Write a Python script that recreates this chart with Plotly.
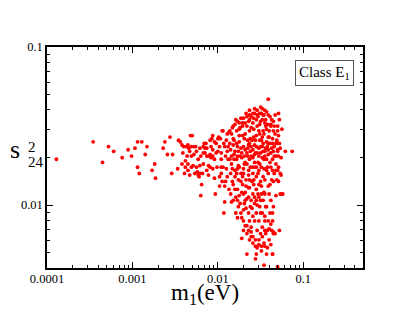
import numpy as np
import plotly.graph_objects as go

# log10 of m1 (eV) and log10 of s24^2
log_m1 = [
 -3.89,-3.46,-3.35,-3.28,-3.22,-3.12,-3.05,-3.01,-2.97,-2.94,-2.94,-2.92,-2.89,-2.85,-2.83,-2.77,-2.74,-2.73,-2.64,-2.62,-2.59,-2.56,-2.53,-2.54,-2.47,-2.46,
 -2.44,-2.42,-2.40,-2.38,-2.37,-2.35,-2.34,-2.32,-2.30,-2.31,-2.38,-2.35,-2.33,-2.31,-2.29,-2.28,-2.26,-2.24,-2.23,-2.22,-2.21,-2.20,-2.19,-2.17,-2.16,-2.15,-2.14,-2.13,-2.11,-2.11,-2.09,-2.08,-2.07,-2.06,-2.06,-2.04,-2.04,-2.03,-2.02,-2.01,
 -2.00,-1.99,-1.98,-1.98,-1.96,-1.96,-1.96,-1.95,-1.94,-1.93,-1.93,-1.92,-1.91,-1.91,-1.90,-1.89,-1.89,-1.88,-1.87,-1.87,-1.86,-1.85,-1.84,-1.84,-1.83,-1.83,-1.82,-1.82,-1.81,-1.80,-1.80,-1.79,-1.79,-1.78,-1.77,-1.77,-1.77,-1.76,-1.76,-1.75,-1.74,-1.74,-1.73,-1.73,-1.72,-1.72,-1.71,-1.70,-1.70,-1.70,-1.69,-1.68,-1.68,-1.67,-1.66,-1.66,-1.66,-1.65,-1.64,-1.64,-1.63,-1.63,-1.63,-1.62,-1.61,-1.61,-1.61,-1.60,-1.59,-1.59,-1.59,-1.59,-1.58,-1.57,-1.57,-1.57,-1.56,-1.55,-1.55,-1.55,-1.54,-1.54,-1.53,-1.53,-1.52,-1.52,-1.51,-1.51,-1.50,-1.50,-1.50,-1.49,-1.49,-1.48,-1.48,-1.47,-1.47,-1.47,-1.46,-1.46,-1.45,-1.45,-1.44,-1.44,-1.43,-1.42,-1.42,-1.41,-1.41,-1.40,-1.39,-1.39,-1.38,-1.38,-1.37,-1.36,-1.36,-1.35,-1.35,-1.34,-1.34,-1.33,-1.32,-1.31,-1.30,-1.30,-1.29,-1.28,-1.27,-1.27,-1.26,-1.25,-1.25,-1.21,-1.13,-1.26,-1.24,-1.36,-1.30,-1.41,-1.56,-1.46,
 -1.84,-1.82,-1.81,-1.80,-1.78,-1.78,-1.77,-1.75,-1.75,-1.74,-1.73,-1.72,-1.71,-1.71,-1.70,-1.69,-1.68,-1.68,-1.67,-1.66,-1.65,-1.64,-1.64,-1.63,-1.62,-1.62,-1.61,-1.60,-1.59,-1.58,-1.58,-1.57,-1.56,-1.56,-1.55,-1.55,-1.54,-1.53,-1.52,-1.52,-1.51,-1.50,-1.50,-1.49,-1.48,-1.48,-1.47,-1.46,-1.46,-1.45,-1.45,-1.44,-1.43,-1.43,-1.42,-1.41,-1.41,-1.40,-1.39,-1.39,-1.38,-1.38,-1.37,-1.36,-1.36,-1.35,-1.34,-1.33,-1.32,-1.32,-1.31,-1.30,-1.29,-1.29,-1.28,-1.28,
 -1.45,-1.43,-1.48,-1.54,-1.50,-1.57,-1.59,-1.63,-1.67,-1.70,-1.75,-1.79,-1.82,-1.86,-1.90,-1.92,-1.95,-1.97,-2.00,-2.02,-2.04,-2.06,-2.08,-2.09,-2.11,-2.13,-2.15,-2.17,-2.18,-2.20,-2.21,-2.23,-2.25,-2.27,-2.28,-2.31,-2.33,-2.36,-2.39,-2.41,-2.42,
 -1.80,-1.77,-1.75,-1.73,-1.71,-1.69,-1.68,-1.66,-1.64,-1.63,-1.63,-1.61,-1.60,-1.59,-1.57,-1.57,-1.55,-1.55,-1.54,-1.53,-1.52,-1.51,-1.50,-1.49,-1.48,-1.48,-1.47,-1.46,-1.45,-1.45,-1.44,-1.43,-1.42,-1.41,-1.40,-1.39,-1.38,-1.37,-1.36,-1.35,-1.33,-1.38,-1.36,-1.45,-1.49,-1.52,-1.54,-1.56,-1.59,-1.61,-1.63,-1.64,-1.66,-1.68,-1.70,-1.72,-1.66,-1.43,
 -1.29,-1.27,-1.32,-1.30,
 -1.85,-1.84,-1.83,-1.81,-1.80,-1.78,-1.77,-1.76,-1.75,-1.73,-1.72,-1.71,-1.70,-1.69,-1.68,-1.66,-1.65,-1.64,-1.63,-1.62,-1.61,-1.59,-1.58,-1.57,-1.56,-1.55,-1.54,-1.52,-1.51,-1.50,-1.49,-1.48,-1.46,-1.45,-1.44,-1.43,-1.42,-1.41,-1.40,-1.38,-1.37,-1.36,-1.35,-1.34,-1.32,-1.31,-1.30,-1.29,
 -1.77,-1.70,-1.64,-1.58,-1.52,-1.45,-1.40,-1.35,-1.59,-1.52,-1.47,-1.63,-1.55,-1.41,-1.51,-1.61,-1.49,-1.41,-1.35,
 -1.86,-1.88,-1.89,-1.94,-1.96,-1.82,-1.85,-1.76,-1.67,-2.13,-2.17,-2.21,-2.25,-2.35,-2.06,-2.09,-1.98,-1.92,
]
log_s24 = [
 -1.71,-1.60,-1.73,-1.63,-1.66,-1.70,-1.65,-1.69,-1.64,-1.60,-1.76,-1.80,-1.60,-1.68,-1.63,-1.78,-1.74,-1.83,-1.64,-1.60,-1.68,-1.57,-1.68,-1.80,-1.77,-1.59,
 -1.60,-1.62,-1.63,-1.72,-1.63,-1.62,-1.64,-1.56,-1.56,-1.63,-1.76,-1.78,-1.81,-1.69,-1.75,-1.68,-1.63,-1.79,-1.81,-1.82,-1.75,-1.94,-1.87,-1.67,-1.61,-1.64,-1.61,-1.64,-1.75,-1.81,-1.68,-1.70,-1.58,-1.56,-1.65,-1.60,-1.83,-1.93,-1.67,-1.76,
 -1.58,-1.57,-1.63,-1.82,-1.71,-1.76,-1.80,-1.85,-1.53,-2.05,-1.61,-1.98,-1.69,-1.85,-1.77,-1.66,-1.55,-1.63,-1.54,-1.90,-1.71,-1.80,-1.74,-1.98,-1.51,-1.85,-1.87,-1.58,-1.68,-1.78,-1.49,-1.95,-2.05,-1.61,-1.47,-1.77,-2.08,-1.84,-1.66,-1.52,-1.99,-1.69,-1.45,-1.80,-2.21,-1.92,-1.56,-1.63,-2.10,-2.03,-1.74,-1.97,-1.48,-1.84,-1.67,-2.13,-1.44,-1.59,-1.78,-1.89,-1.53,-1.43,-1.71,-2.01,-2.14,-1.63,-2.20,-1.85,-1.48,-2.24,-1.76,-2.07,-1.57,-1.68,-1.42,-1.95,-2.26,-1.82,-2.31,-1.63,-1.50,-2.00,-1.73,-1.44,-1.87,-2.22,-1.59,-1.42,-2.05,-1.97,-1.67,-1.76,-2.26,-1.46,-2.14,-1.53,-1.82,-1.61,-1.92,-1.43,-1.69,-2.10,-2.01,-1.50,-1.78,-1.63,-2.27,-1.88,-1.57,-2.15,-1.44,-1.73,-1.97,-1.50,-1.84,-1.61,-2.05,-1.53,-2.18,-1.69,-1.80,-1.43,-1.94,-1.59,-1.66,-1.50,-1.85,-2.16,-1.64,-1.80,-1.70,-1.52,-1.93,-1.66,-1.66,-1.81,-1.93,-2.31,-2.39,-1.33,-2.34,-2.38,
 -1.55,-1.62,-1.71,-1.66,-1.53,-1.80,-1.69,-1.60,-1.76,-1.51,-1.64,-1.70,-1.82,-1.48,-1.77,-1.58,-1.65,-1.73,-1.88,-1.50,-1.69,-1.62,-1.81,-1.46,-1.66,-1.76,-1.51,-1.59,-1.70,-1.87,-1.45,-1.62,-1.76,-1.67,-1.56,-1.90,-1.43,-1.80,-1.64,-1.53,-1.74,-1.47,-1.85,-1.59,-1.70,-1.63,-1.43,-1.77,-1.55,-1.66,-1.84,-1.46,-1.60,-1.71,-1.49,-1.80,-1.65,-1.53,-1.87,-1.61,-1.76,-1.67,-1.46,-1.71,-1.58,-1.85,-1.63,-1.55,-1.74,-1.69,-1.61,-1.78,-1.56,-1.69,-1.61,-1.46,
 -1.40,-1.41,-1.39,-1.40,-1.38,-1.39,-1.42,-1.40,-1.42,-1.45,-1.48,-1.46,-1.50,-1.53,-1.59,-1.63,-1.53,-1.58,-1.66,-1.61,-1.71,-1.77,-1.63,-1.59,-1.69,-1.78,-1.67,-1.74,-1.80,-1.69,-1.64,-1.71,-1.76,-1.80,-1.63,-1.76,-1.66,-1.69,-1.80,-1.67,-1.74,
 -1.90,-1.97,-1.94,-2.05,-1.87,-1.99,-1.92,-1.96,-2.05,-2.10,-1.89,-1.97,-2.02,-1.93,-1.99,-2.10,-2.05,-1.97,-2.16,-1.93,-2.10,-2.01,-2.18,-1.93,-2.05,-2.20,-1.97,-2.24,-2.07,-2.16,-2.18,-2.01,-2.16,-2.10,-2.22,-2.05,-2.12,-2.16,-2.10,-2.17,-2.18,-2.25,-2.31,-2.26,-2.29,-2.25,-2.27,-2.22,-2.20,-2.17,-2.22,-2.16,-2.18,-2.13,-2.16,-2.08,-2.31,-2.31,
 -1.42,-1.93,-1.78,-1.53,
 -1.65,-1.69,-1.77,-1.59,-1.82,-1.71,-1.63,-1.75,-1.56,-1.85,-1.67,-1.50,-1.80,-1.69,-1.55,-1.74,-1.64,-1.47,-1.84,-1.58,-1.69,-1.80,-1.52,-1.73,-1.59,-1.46,-1.67,-1.78,-1.49,-1.63,-1.88,-1.57,-1.71,-1.48,-1.64,-1.52,-1.76,-1.68,-1.57,-1.49,-1.64,-1.78,-1.66,-1.50,-1.61,-1.84,-1.65,-1.76,
 -1.90,-1.93,-1.95,-1.84,-1.95,-1.93,-1.93,-2.01,-1.65,-1.69,-1.66,-1.61,-1.76,-1.61,-1.55,-1.44,-1.42,-1.43,-1.47,
 -1.61,-1.71,-1.82,-1.76,-1.67,-1.97,-1.93,-2.01,-2.02,-1.69,-1.63,-1.80,-1.66,-1.74,-1.69,-1.76,-1.88,-1.88,
]

x_tickvals = [1e-4, 1e-3, 1e-2, 1e-1]
x_ticktext = ["0.0001", "0.001", "0.01", "0.1"]
y_tickvals = [1e-2, 1e-1]
y_ticktext = ["0.01", "0.1"]

m1 = 10 ** np.array(log_m1)
s24 = 10 ** np.array(log_s24)

x_minor = [m * 10.0 ** e for e in range(-4, 0) for m in range(2, 10)]
x_minor = [v for v in x_minor if v <= 0.5]
y_minor = [m * 10.0 ** e for e in range(-3, -1) for m in range(2, 10)]
y_minor = [v for v in y_minor if v >= 0.004]

serif = "Liberation Serif, Times New Roman, serif"

fig = go.Figure()
fig.add_trace(go.Scatter(x=m1, y=s24, mode="markers",
                         marker=dict(color="#ff0000", size=3.8, line=dict(width=0)),
                         showlegend=False, hoverinfo="skip"))

axis_common = dict(
    type="log", showgrid=False, zeroline=False,
    showline=True, linecolor="black", linewidth=1.5, mirror="allticks",
    ticks="inside", ticklen=6, tickwidth=1.2, tickcolor="black",
    tickfont=dict(family=serif, size=12.5, color="black"),
)
fig.update_xaxes(**axis_common, range=[-4, np.log10(0.5)],
                 tickvals=x_tickvals, ticktext=x_ticktext, ticklabelstandoff=-2,
                 minor=dict(tickvals=x_minor, ticks="inside", ticklen=3,
                            tickwidth=1, tickcolor="black", showgrid=False))
fig.update_yaxes(**axis_common, range=[np.log10(0.004), -1],
                 tickvals=y_tickvals, ticktext=y_ticktext,
                 minor=dict(tickvals=y_minor, ticks="inside", ticklen=3,
                            tickwidth=1, tickcolor="black", showgrid=False))

fig.add_annotation(text="m<sub>1</sub>(eV)", xref="paper", yref="paper",
                   x=0.5, y=-0.118, xanchor="center", yanchor="middle",
                   showarrow=False, font=dict(family=serif, size=23, color="black"))
fig.add_annotation(text="s", xref="paper", yref="paper", x=-0.08, y=0.534,
                   xanchor="right", yanchor="middle", showarrow=False,
                   font=dict(family=serif, size=26, color="black"))
fig.add_annotation(text="2", xref="paper", yref="paper", x=-0.068, y=0.548,
                   xanchor="left", yanchor="middle", showarrow=False,
                   font=dict(family=serif, size=15, color="black"))
fig.add_annotation(text="24", xref="paper", yref="paper", x=-0.068, y=0.48,
                   xanchor="left", yanchor="middle", showarrow=False,
                   font=dict(family=serif, size=15, color="black"))
fig.add_annotation(text="Class E<sub>1</sub>", xref="paper", yref="paper",
                   x=0.972, y=0.941, xanchor="right", yanchor="top",
                   showarrow=False, bordercolor="#555555", borderwidth=1,
                   borderpad=3, bgcolor="white",
                   font=dict(family=serif, size=15, color="black"))

fig.update_layout(width=409, height=316,
                  margin=dict(l=47, r=46, t=47, b=48),
                  paper_bgcolor="white", plot_bgcolor="white")
fig.write_html("out.html", config={"displayModeBar": False},
               post_script="document.body.style.margin='0';document.body.style.padding='0';")
